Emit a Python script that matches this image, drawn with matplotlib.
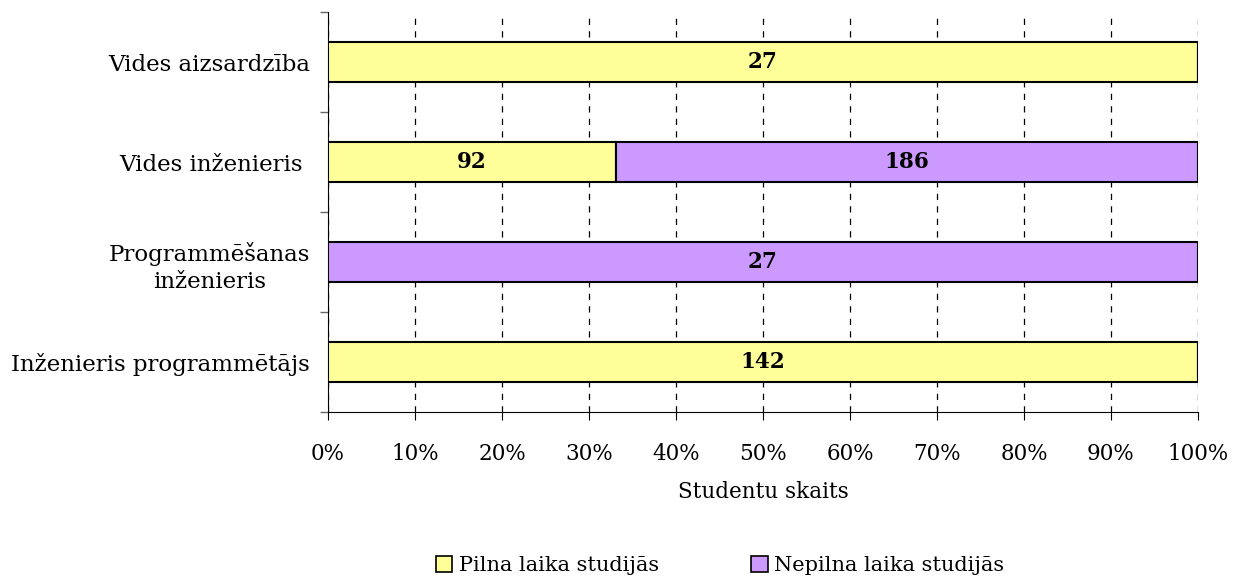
import numpy as np
import matplotlib
matplotlib.use("Agg")
import matplotlib.pyplot as plt
from matplotlib.patches import Patch

plt.rcParams['font.family'] = ['DejaVu Serif']

# categories from bottom to top
programs = ["Inženieris programmētājs", "Programmēšanas\ninženieris",
            "Vides inženieris ", "Vides aizsardzība"]
full_time = [142, 0, 92, 27]
part_time = [0, 27, 186, 0]
series_names = ["Pilna laika studijās", "Nepilna laika studijās"]
colors = ["#FFFF99", "#CC99FF"]

full_time = np.array(full_time, dtype=float)
part_time = np.array(part_time, dtype=float)
totals = full_time + part_time
full_pct = full_time / totals * 100
part_pct = part_time / totals * 100

fs = 15.5

fig = plt.figure(figsize=(12.33, 5.78), dpi=100)
ax = fig.add_axes([0.266, 0.287, 0.9716 - 0.266, 0.979 - 0.287])

y = np.arange(len(programs))
ax.barh(y, full_pct, height=0.4, color=colors[0], edgecolor="black", linewidth=1.5, zorder=3)
ax.barh(y, part_pct, left=full_pct, height=0.4, color=colors[1], edgecolor="black",
        linewidth=1.5, zorder=3)

for i in range(len(programs)):
    if full_time[i] > 0:
        ax.text(full_pct[i] / 2, y[i], f"{int(full_time[i])}", ha="center", va="center",
                fontweight="bold", fontsize=fs, zorder=4)
    if part_time[i] > 0:
        ax.text(full_pct[i] + part_pct[i] / 2, y[i], f"{int(part_time[i])}", ha="center",
                va="center", fontweight="bold", fontsize=fs, zorder=4)

ax.set_xlim(0, 100)
ax.set_ylim(-0.5, len(programs) - 0.5)
ax.set_xticks(np.arange(0, 101, 10))
ax.set_xticklabels([f"{v}%" for v in range(0, 101, 10)], fontsize=fs)
ax.tick_params(axis="x", direction="out", length=6, pad=16, color="black")
ax.xaxis.grid(True, linestyle=(0, (5, 5)), color="black", linewidth=0.9, zorder=0)

ax.set_yticks(y)
ax.set_yticklabels(programs, fontsize=16.5)
for lbl in ax.get_yticklabels():
    lbl.set_multialignment("center")
    lbl.set_linespacing(1.3)
ax.tick_params(axis="y", which="major", length=0, pad=13)
ax.set_yticks(np.arange(-0.5, len(programs), 1), minor=True)
ax.tick_params(axis="y", which="minor", length=6, width=1, color="#666666", direction="out")

for s in ["top", "right"]:
    ax.spines[s].set_visible(False)
ax.spines["left"].set_color("black")
ax.spines["bottom"].set_color("black")

ax.set_xlabel("Studentu skaits", fontsize=fs, labelpad=12)

handles = [Patch(facecolor=c, edgecolor="black", linewidth=1.2) for c in colors]
fig.legend(handles, series_names, loc="center", bbox_to_anchor=(0.584, 0.021), ncol=2,
           frameon=False, fontsize=15, handlelength=0.8, handleheight=0.8,
           handletextpad=0.3, columnspacing=4.45)

fig.savefig("out.png", dpi=100)
